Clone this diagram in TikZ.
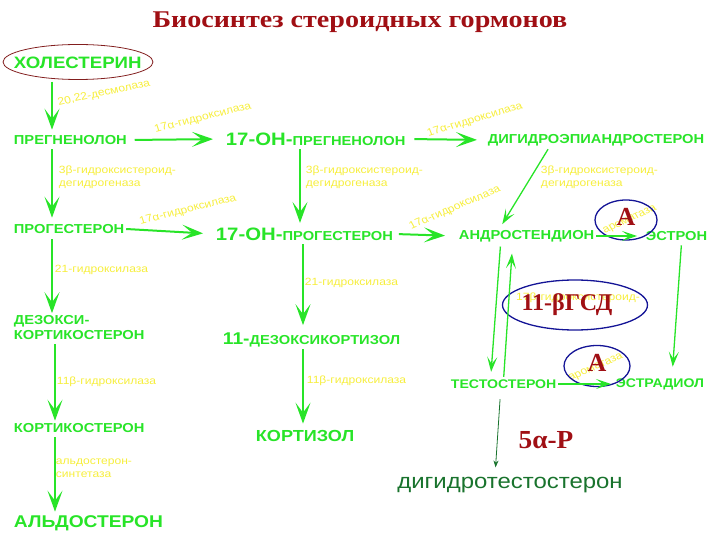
\documentclass[tikz,border=0pt]{standalone}
\usepackage{fontspec}
\setmainfont{Liberation Serif}
\setsansfont{Liberation Sans}
\usetikzlibrary{arrows.meta,shapes.geometric}

\definecolor{hgreen}{RGB}{40,228,40}
\definecolor{enzyel}{RGB}{246,238,60}
\definecolor{darkred}{RGB}{160,15,20}
\definecolor{ringblue}{RGB}{20,20,150}
\definecolor{cholring}{RGB}{130,30,30}
\definecolor{dhtgreen}{RGB}{25,115,45}

\begin{document}
\begin{tikzpicture}[%
    x=1pt, y=-1pt,                 % pixel-like grid, y going down
    >={Stealth[length=21pt,width=15pt,inset=10pt]},
    every node/.style={inner sep=1.5pt},
    ]
% -------------------------------------------------
% Styles
\tikzset{
  horm/.style={text=hgreen, font=\sffamily\bfseries\fontsize{13}{15}\selectfont,
    xscale=1.13, anchor=west, align=left},
  hormbig/.style={horm, font=\sffamily\bfseries\fontsize{17}{18}\selectfont},
  enz/.style={text=enzyel, font=\sffamily\fontsize{10.5}{13}\selectfont,
    xscale=1.15, align=left},
  norm/.style={->, draw=hgreen, line width=2pt},
  slim/.style={->, draw=hgreen, line width=1.3pt,
    >={Stealth[length=15pt,width=10pt,inset=7pt]}},
  redmark/.style={text=darkred, font=\bfseries\fontsize{26}{26}\selectfont},
  bluering/.style={draw=ringblue, line width=1.3pt, ellipse, inner sep=0pt},
}
\useasboundingbox (0,0) rectangle (720,540);
% -------------------------------------------------
% Title
\node[text=darkred, font=\bfseries\fontsize{24}{26}\selectfont, xscale=1.17] (title)
  at (360,22) {Биосинтез стероидных гормонов};
% -------------------------------------------------
% Enzyme labels (under everything else)
\node[enz, rotate=14] (e1) at (104,93) {20,22-десмолаза};
\node[enz, rotate=16] (e2) at (203,118) {17α-гидроксилаза};
\node[enz, rotate=19] (e3) at (475,120) {17α-гидроксилаза};
\node[enz, rotate=16] (e4) at (188,210) {17α-гидроксилаза};
\node[enz, rotate=26] (e5) at (455,208) {17α-гидроксилаза};
\node[enz, anchor=north west] (e6) at (57,164) {3β-гидроксистероид-\\дегидрогеназа};
\node[enz, anchor=north west] (e7) at (304,164) {3β-гидроксистероид-\\дегидрогеназа};
\node[enz, anchor=north west] (e8) at (539,164) {3β-гидроксистероид-\\дегидрогеназа};
\node[enz, anchor=west] (e9) at (53,270) {21-гидроксилаза};
\node[enz, anchor=west] (e10) at (303,283) {21-гидроксилаза};
\node[enz, anchor=west] (e11) at (55,382) {11β-гидроксилаза};
\node[enz, anchor=west] (e12) at (305,381) {11β-гидроксилаза};
\node[enz, anchor=north west] (e13) at (54,457) {альдостерон-\\синтетаза};
\node[enz, rotate=28] (e14) at (630,220) {ароматаза};
\node[enz, rotate=26] (e15) at (596,368) {ароматаза};
\node[enz] (e16) at (578,298) {17β-гидроксистероид-};
% -------------------------------------------------
% Hormones
\node[horm, font=\sffamily\bfseries\fontsize{16.5}{18}\selectfont] (chol) at (12,63) {ХОЛЕСТЕРИН};
\node[horm] (preg) at (12,140) {ПРЕГНЕНОЛОН};
\node[horm] (ohpreg) at (224,139) {{\fontsize{18}{18}\selectfont 17-ОН-}ПРЕГНЕНОЛОН};
\node[horm] (dhea) at (486,140) {ДИГИДРОЭПИАНДРОСТЕРОН};
\node[horm] (prog) at (12,229) {ПРОГЕСТЕРОН};
\node[horm] (ohprog) at (214,234) {{\fontsize{18}{18}\selectfont 17-ОН-}ПРОГЕСТЕРОН};
\node[horm] (andro) at (457,236) {АНДРОСТЕНДИОН};
\node[horm] (estron) at (644,236) {ЭСТРОН};
\node[horm] (dezoxi) at (12,328) {ДЕЗОКСИ-\\КОРТИКОСТЕРОН};
\node[horm] (dezcort) at (221,340) {{\fontsize{17}{17}\selectfont 11-}ДЕЗОКСИКОРТИЗОЛ};
\node[horm, font=\sffamily\bfseries\fontsize{12.5}{15}\selectfont] (testo) at (449,384) {ТЕСТОСТЕРОН};
\node[horm, font=\sffamily\bfseries\fontsize{12.5}{15}\selectfont] (estrad) at (614,384) {ЭСТРАДИОЛ};
\node[horm] (cortico) at (12,428) {КОРТИКОСТЕРОН};
\node[hormbig, font=\sffamily\bfseries\fontsize{16}{18}\selectfont] (cortizol) at (254,436) {КОРТИЗОЛ};
\node[hormbig] (aldo) at (12,523) {АЛЬДОСТЕРОН};
\node[text=dhtgreen, font=\sffamily\fontsize{21}{22}\selectfont, xscale=1.14] (dht)
  at (510,485) {дигидротестостерон};
% -------------------------------------------------
% Rings and enzyme marks
\node[draw=cholring, line width=0.8pt, ellipse, inner sep=0pt,
  minimum width=150pt, minimum height=35pt] (cholring) at (78,62) {};
\node[bluering, minimum width=62pt, minimum height=40pt] (ringA1) at (626,220) {};
\node[redmark] (markA1) at (626,217) {А};
\node[bluering, minimum width=145pt, minimum height=50pt] (ringG) at (575,305) {};
\node[redmark, font=\bfseries\fontsize{24}{24}\selectfont] (markG) at (567,305) {11-βГСД};
\node[bluering, minimum width=66pt, minimum height=41pt] (ringA2) at (597,366) {};
\node[redmark] (markA2) at (597,363) {А};
\node[redmark, font=\bfseries\fontsize{26}{26}\selectfont, xscale=1.05] (mark5) at (546,440) {5α-Р};
% -------------------------------------------------
% Connectors
\coordinate (cL) at (52,0);
\coordinate (cL2) at (55,0);
\coordinate (cM) at (300,0);
\coordinate (cM2) at (303,0);
\draw[norm, shorten <=11pt, shorten >=4pt] (chol.south -| cL) -- (preg.north -| cL);
\draw[norm, shorten <=3pt, shorten >=5pt] (preg.south -| cL) -- (prog.north -| cL);
\draw[norm, shorten <=4pt, shorten >=1pt] (prog.south -| cL) -- (dezoxi.north -| cL);
\draw[norm, shorten <=2pt, shorten >=1pt] (dezoxi.south -| cL2) -- (cortico.north -| cL2);
\draw[norm, shorten <=3pt, shorten >=2pt] (cortico.south -| cL2) -- (aldo.north -| cL2);
\draw[norm, shorten <=2pt, shorten >=3pt] (ohpreg.south -| cM) -- (ohprog.north -| cM);
\draw[norm, shorten <=2pt, shorten >=6pt] (ohprog.south -| cM2) -- (dezcort.north -| cM2);
\draw[norm, shorten >=5pt] (dezcort.south -| cM2) -- (cortizol.north -| cM2);
\draw[norm, shorten <=6pt, shorten >=11pt] (preg.east) -- (ohpreg.west);
\draw[norm, shorten <=7pt, shorten >=9pt] (ohpreg.east) -- (dhea.west);
\draw[norm, shorten >=11pt] (prog.east) -- (ohprog.west);
\draw[norm, shorten <=4pt, shorten >=12pt] (ohprog.east) -- (andro.west);
\draw[slim, shorten <=2pt, shorten >=5pt] ([xshift=-47pt]dhea.south) -- ([xshift=-27pt]andro.north);
\draw[slim, shorten >=7pt] (andro.east) -- (estron.west);
\draw[slim, shorten <=3pt, shorten >=6pt] ([xshift=-26pt]andro.south) -- ([xshift=-13pt]testo.north);
\draw[slim, shorten <=1pt, shorten >=10pt] (testo.north) -- ([xshift=-14pt]andro.south);
\draw[slim, shorten <=3pt, shorten >=10pt] ([xshift=5pt]estron.south) -- ([xshift=12pt]estrad.north);
\draw[slim, shorten >=3pt] (testo.east) -- (estrad.west);
\draw[->, draw=dhtgreen, line width=0.8pt, >={Stealth[length=7pt,width=5pt]},
  shorten <=9pt, shorten >=8pt] ([xshift=-3pt]testo.south) -- ([xshift=-15pt]dht.north);
% -------------------------------------------------
\end{tikzpicture}
\end{document}
